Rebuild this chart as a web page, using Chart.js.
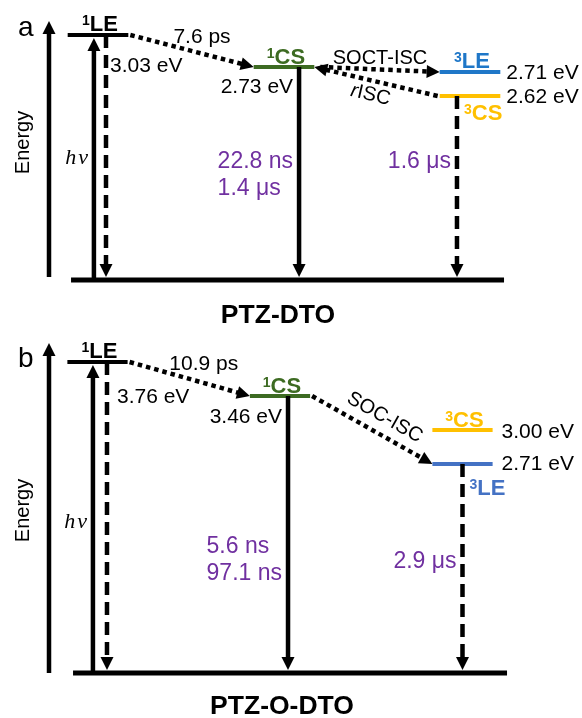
<!DOCTYPE html>
<html>
<head>
<meta charset="utf-8">
<script src="https://cdn.jsdelivr.net/npm/chart.js@4.4.1/dist/chart.umd.min.js"></script>
<style>
  html, body { margin: 0; padding: 0; background: #fff; }
  #wrap { width: 582px; height: 718px; position: relative; }
  canvas { position: absolute; left: 0; }
  #panelA { top: 0; }
  #panelB { top: 330px; }
</style>
</head>
<body>
<div id="wrap">
  <canvas id="panelA" width="582" height="330"></canvas>
  <canvas id="panelB" width="582" height="388"></canvas>
</div>
<script>
// excited states, same order in both panels
const spin = ["1", "1", "3", "3"];
const kind = ["LE", "CS", "LE", "CS"];
const column = [0, 1, 2, 2];

// PTZ-DTO
const energyA = ["3.03 eV", "2.73 eV", "2.71 eV", "2.62 eV"];
const heightA = [245, 213, 208, 184]; // drawn height above S0, diagram is not to scale
const decayA = [0, 1, 3];
const lifetimeA = [null, ["22.8 ns", "1.4 μs"], null, ["1.6 μs"]];
const ratesA = [[0, 1, "7.6 ps"], [1, 2, "SOCT-ISC"], [3, 1, "rISC"]];

// PTZ-O-DTO
const energyB = ["3.76 eV", "3.46 eV", "2.71 eV", "3.00 eV"];
const heightB = [311, 277, 209, 243];
const decayB = [0, 1, 2];
const lifetimeB = [null, ["5.6 ns", "97.1 ns"], ["2.9 μs"], null];
const ratesB = [[0, 1, "10.9 ps"], [1, 2, "SOC-ISC"]];

const SANS = '"Liberation Sans", Arial, sans-serif';
const PURPLE = "#7030a0";

const lookA = {
  letter: "a", title: "PTZ-DTO", letterY: 36, titleX: 278, titleY: 323,
  x: [-0.5269, 2.6022], y: [-50, 280], ground: [-0.145, 2.183], halfWidth: 0.163,
  colors: ["#000000", "#3d6b22", "#1f77c8", "#ffc000"],
  axis: [49, 21, 277], energyYc: 142.5, hvY: 164,
  pump: -0.022, decayDx: [0.043, 0.081, 0, -0.07], decayDash: [true, false, true, true],
  nameBelow: [false, false, false, true], nameDy: [-4, -3, -4, 24],
  energyMode: ["after", "before", "right", "right"], energyDx: [4, -6, 6, 6], energyDy: [37, 26, 7, 7],
  lifeY: [0, 168, 0, 168],
  rateGap: [2, 6, 2],
  rateLabel: [{ dx: 10, dy: -8 }, { dx: 0, dy: -5.5 }, { dx: -5.5, dy: 13.5, rotate: true, italicFirst: true }]
};

const lookB = {
  letter: "b", title: "PTZ-O-DTO", letterY: 37, titleX: 282, titleY: 384,
  x: [-0.5342, 2.6548], y: [-45, 343], ground: [-0.134, 2.244], halfWidth: 0.165,
  colors: ["#000000", "#3d6b22", "#4472c4", "#ffc000"],
  axis: [49, 13, 343], energyYc: 180.5, hvY: 198,
  pump: -0.025, decayDx: [0.052, 0.044, 0, 0], decayDash: [true, false, true, true],
  nameBelow: [false, false, true, false], nameDy: [-4, -3, 31, -3],
  energyMode: ["after", "before", "right", "right"], energyDx: [10, -6, 9, 9], energyDy: [41, 27, 6, 8],
  lifeY: [0, 223, 238, 0],
  rateGap: [2, 2],
  rateLabel: [{ dx: 14, dy: -9 }, { dx: 12.5, dy: -12.5, rotate: true }]
};

function arrow(ctx, x0, y0, x1, y1, dash, width) {
  const ang = Math.atan2(y1 - y0, x1 - x0), len = 13, half = 6.5;
  ctx.save();
  ctx.strokeStyle = "#000"; ctx.fillStyle = "#000";
  ctx.lineWidth = width; ctx.lineCap = "butt"; ctx.setLineDash(dash);
  ctx.beginPath();
  ctx.moveTo(x0, y0);
  ctx.lineTo(x1 - Math.cos(ang) * (len - 1), y1 - Math.sin(ang) * (len - 1));
  ctx.stroke();
  ctx.setLineDash([]);
  ctx.translate(x1, y1); ctx.rotate(ang);
  ctx.beginPath(); ctx.moveTo(0, 0); ctx.lineTo(-len, -half); ctx.lineTo(-len, half); ctx.closePath(); ctx.fill();
  ctx.restore();
}

// parts: [text, font, color, raise, gapAfter]
function runs(ctx, parts, x, y, align) {
  let total = 0;
  parts.forEach(p => { ctx.font = p[1]; total += ctx.measureText(p[0]).width + (p[4] || 0); });
  let cx = align === "center" ? x - total / 2 : align === "right" ? x - total : x;
  ctx.textAlign = "left";
  parts.forEach(p => {
    ctx.font = p[1]; ctx.fillStyle = p[2];
    ctx.fillText(p[0], cx, y - (p[3] || 0));
    cx += ctx.measureText(p[0]).width + (p[4] || 0);
  });
}

function makePanel(id, d, look) {
  const datasets = [{
    data: [{ x: look.ground[0], y: 0 }, { x: look.ground[1], y: 0 }],
    borderColor: "#000", borderWidth: 5
  }];
  d.height.forEach((h, i) => datasets.push({
    data: [{ x: column[i] - look.halfWidth, y: h }, { x: column[i] + look.halfWidth, y: h }],
    borderColor: look.colors[i], borderWidth: 4
  }));
  datasets.forEach(ds => Object.assign(ds, { showLine: true, pointRadius: 0, borderCapStyle: "butt" }));

  const overlay = {
    id: "jablonski",
    afterDatasetsDraw(chart) {
      const ctx = chart.ctx, xs = chart.scales.x, ys = chart.scales.y;
      const px = v => xs.getPixelForValue(v), py = v => ys.getPixelForValue(v);
      const g = py(0);
      const L = i => px(column[i] - look.halfWidth), R = i => px(column[i] + look.halfWidth);
      const Y = i => py(d.height[i]);
      const dx = i => px(column[i] + look.decayDx[i]);
      ctx.save();
      ctx.textBaseline = "alphabetic";

      // energy axis
      arrow(ctx, look.axis[0], look.axis[2], look.axis[0], look.axis[1], [], 4.5);
      ctx.save();
      ctx.translate(29, look.energyYc); ctx.rotate(-Math.PI / 2);
      ctx.font = "20px " + SANS; ctx.fillStyle = "#000"; ctx.textAlign = "center";
      ctx.fillText("Energy", 0, 0);
      ctx.restore();
      runs(ctx, [[look.letter, "28px " + SANS, "#000"]], 18, look.letterY, "left");

      // excitation
      const xp = px(column[0] + look.pump);
      arrow(ctx, xp, g - 2, xp, Y(0) + 3, [], 4.5);
      const serif = 'italic 22px "Liberation Serif", serif';
      runs(ctx, [["h", serif, "#000", 0, 2], ["ν", serif, "#000"]], xp - 6, look.hvY, "right");

      // decays to the ground state
      d.decay.forEach(i => {
        const x = dx(i);
        arrow(ctx, x, Y(i), x, g - 3, look.decayDash[i] ? [13, 7] : [], 4.5);
        const life = d.lifetime[i];
        if (life) {
          ctx.font = "23px " + SANS;
          const w = Math.max(...life.map(t => ctx.measureText(t).width));
          life.forEach((t, k) => runs(ctx, [[t, "23px " + SANS, PURPLE]], x - 6 - w, look.lifeY[i] + k * 27, "left"));
        }
      });

      // non-radiative steps between levels
      d.rates.forEach((r, k) => {
        const [a, b, text] = r;
        const right = column[b] > column[a];
        const x0 = right ? R(a) + look.rateGap[k] : L(a) - look.rateGap[k];
        const x1 = right ? L(b) : R(b);
        const y0 = Y(a), y1 = Y(b);
        arrow(ctx, x0, y0, x1, y1, [4.5, 4], 4.5);
        const lab = look.rateLabel[k];
        const mx = (x0 + x1) / 2 + lab.dx, my = (y0 + y1) / 2 + lab.dy;
        const font = "20px " + SANS;
        const parts = lab.italicFirst
          ? [[text[0], "italic " + font, "#000"], [text.slice(1), font, "#000"]]
          : [[text, k === 0 ? "21px " + SANS : font, "#000"]];
        if (lab.rotate) {
          let ang = Math.atan2(y1 - y0, x1 - x0);
          if (ang > Math.PI / 2) ang -= Math.PI;
          if (ang < -Math.PI / 2) ang += Math.PI;
          ctx.save();
          ctx.translate(mx, my); ctx.rotate(ang); ctx.textBaseline = "middle";
          runs(ctx, parts, 0, 0, "center");
          ctx.restore();
        } else {
          runs(ctx, parts, mx, my, "center");
        }
      });

      // level names and energies
      d.height.forEach((h, i) => {
        const parts = [[spin[i], "bold 14px " + SANS, look.colors[i], 6], [kind[i], "bold 22px " + SANS, look.colors[i]]];
        if (look.nameBelow[i]) runs(ctx, parts, dx(i) + 7, Y(i) + look.nameDy[i], "left");
        else runs(ctx, parts, (L(i) + R(i)) / 2 + 2, Y(i) + look.nameDy[i], "center");

        const mode = look.energyMode[i];
        const ex = mode === "right" ? R(i) + look.energyDx[i] : dx(i) + look.energyDx[i];
        runs(ctx, [[d.energy[i], "21px " + SANS, "#000"]], ex, Y(i) + look.energyDy[i], mode === "before" ? "right" : "left");
      });

      runs(ctx, [[look.title, "bold 26.5px " + SANS, "#000"]], look.titleX, look.titleY, "center");
      ctx.restore();
    }
  };

  return new Chart(document.getElementById(id), {
    type: "scatter",
    data: { datasets },
    options: {
      responsive: false, animation: false, events: [],
      layout: { padding: 0 },
      plugins: { legend: { display: false }, tooltip: { enabled: false } },
      scales: {
        x: { type: "linear", min: look.x[0], max: look.x[1], display: false },
        y: { type: "linear", min: look.y[0], max: look.y[1], display: false }
      }
    },
    plugins: [overlay]
  });
}

makePanel("panelA", { energy: energyA, height: heightA, decay: decayA, lifetime: lifetimeA, rates: ratesA }, lookA);
makePanel("panelB", { energy: energyB, height: heightB, decay: decayB, lifetime: lifetimeB, rates: ratesB }, lookB);
</script>
</body>
</html>
